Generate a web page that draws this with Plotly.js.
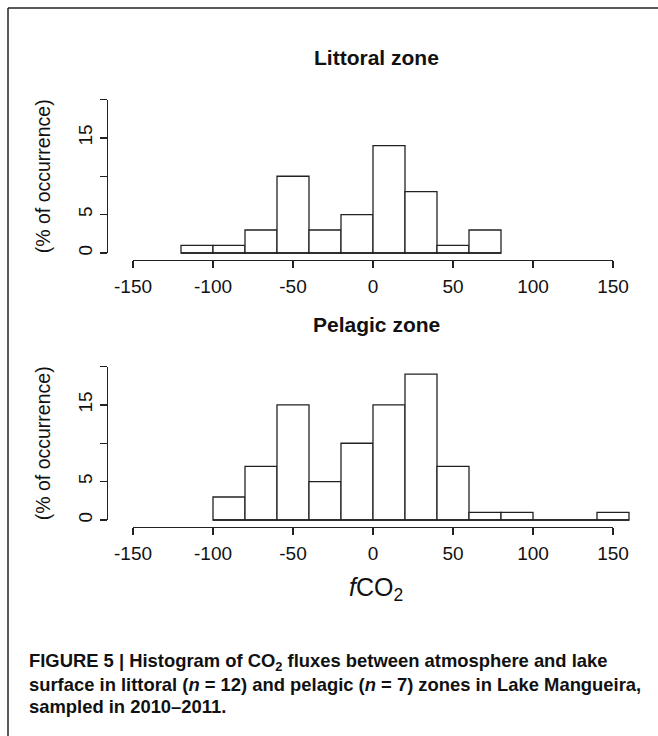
<!DOCTYPE html>
<html>
<head>
<meta charset="utf-8">
<script src="https://cdn.plot.ly/plotly-3.0.1.min.js"></script>
<style>html,body{margin:0;padding:0;background:#fff;}#chart{width:658px;height:736px;}</style>
</head>
<body>
<div id="chart"></div>
<script>
// ---------------- data ----------------
const binWidth = 20;
const littoralCenters = [-110, -90, -70, -50, -30, -10, 10, 30, 50, 70];
const littoralPct     = [1, 1, 3, 10, 3, 5, 14, 8, 1, 3];
const pelagicCenters  = [-90, -70, -50, -30, -10, 10, 30, 50, 70, 90, 110, 130, 150];
const pelagicPct      = [3, 7, 15, 5, 10, 15, 19, 7, 1, 1, 0, 0, 1];
const xTickVals = [-150, -100, -50, 0, 50, 100, 150];
const xTickText = ['-150', '-100', '-50', '0', '50', '100', '150'];
const yTickVals = [0, 5, 10, 15, 20];
const yTickText = ['0', '5', '', '15', ''];
const panelTitles = ['Littoral zone', 'Pelagic zone'];
const yTitle = '(% of occurrence)';
const xTitle = '<i>f</i>CO<sub>2</sub>';
const captionLines = [
  '<b>FIGURE 5 | Histogram of CO<sub>2</sub> fluxes between atmosphere and lake</b>',
  '<b>surface in littoral (<i>n</i> = 12) and pelagic (<i>n</i> = 7) zones in Lake Mangueira,</b>',
  '<b>sampled in 2010–2011.</b>'
];

// ---------------- layout geometry (pixels) ----------------
const W = 658, H = 736;
const px2x = p => p / W;
const px2y = p => 1 - p / H;
const ink = '#222';
const lw = 1.3;
const fontR = 'Liberation Sans, Arial, Helvetica, sans-serif';
const fontCap = 'Liberation Sans, Arial, sans-serif';

const yAxisPx = 108;         // x pixel of vertical axis line
const xMinPx = 133, xMaxPx = 613;   // -150 and 150
const xppu = (xMaxPx - xMinPx) / 300;
const dataRightPx = 652;

const panels = [
  {zero: 253, twenty: 99.5, axisLine: 259.5, top: 91, titleY: 57, centers: littoralCenters, vals: littoralPct},
  {zero: 520, twenty: 366.5, axisLine: 526.5, top: 358, titleY: 324, centers: pelagicCenters, vals: pelagicPct}
];

const traces = [];
const layout = {
  width: W, height: H,
  margin: {l: 0, r: 0, t: 0, b: 0},
  paper_bgcolor: '#fff', plot_bgcolor: 'rgba(0,0,0,0)',
  showlegend: false,
  font: {family: fontR, color: '#111'},
  annotations: [], shapes: []
};

panels.forEach((p, i) => {
  const n = i * 2;
  const dx = n === 0 ? 'x' : 'x' + (n + 1);
  const dy = n === 0 ? 'y' : 'y' + (n + 1);
  const ax = 'x' + (n + 2);
  const ay = 'y' + (n + 2);
  const key = s => s.replace('x', 'xaxis').replace('y', 'yaxis');
  const ppu = (p.zero - p.twenty) / 20;

  layout[key(dx)] = {
    domain: [px2x(yAxisPx), px2x(dataRightPx)],
    range: [-150 - (xMinPx - yAxisPx) / xppu, -150 + (dataRightPx - xMinPx) / xppu],
    visible: false, fixedrange: true, anchor: dy
  };
  layout[key(dy)] = {
    domain: [px2y(p.axisLine), px2y(p.top)],
    range: [-(p.axisLine - p.zero) / ppu, 20 + (p.twenty - p.top) / ppu],
    visible: false, fixedrange: true, anchor: dx
  };
  layout[key(ax)] = {
    domain: [px2x(xMinPx), px2x(xMaxPx)], range: [-150, 150], anchor: dy,
    showline: true, linecolor: ink, linewidth: lw, showgrid: false, zeroline: false,
    ticks: 'outside', ticklen: 7, tickwidth: lw, tickcolor: ink, ticklabelstandoff: 2,
    tickmode: 'array', tickvals: xTickVals, ticktext: xTickText,
    tickfont: {family: fontR, size: 19, color: '#111'}, fixedrange: true
  };
  layout[key(ay)] = {
    domain: [px2y(p.zero), px2y(p.twenty)], range: [0, 20], anchor: dx, side: 'left',
    showline: true, linecolor: ink, linewidth: lw, showgrid: false, zeroline: false,
    ticks: 'outside', ticklen: 7, tickwidth: lw, tickcolor: ink,
    tickmode: 'array', tickvals: yTickVals, ticktext: yTickText, tickangle: -90,
    tickfont: {family: fontR, size: 19, color: '#111'}, fixedrange: true
  };

  // axis carrier traces (empty)
  traces.push({type: 'scatter', x: [], y: [], xaxis: ax, yaxis: dy, hoverinfo: 'skip'});
  traces.push({type: 'scatter', x: [], y: [], xaxis: dx, yaxis: ay, hoverinfo: 'skip'});

  // histogram bars
  traces.push({
    type: 'bar', x: p.centers, y: p.vals, width: binWidth, xaxis: dx, yaxis: dy,
    marker: {color: '#fff', line: {color: ink, width: lw}}, hoverinfo: 'x+y'
  });
  // baseline through all bins (shows empty bins as a line, like R's hist)
  traces.push({
    type: 'scatter', mode: 'lines', xaxis: dx, yaxis: dy, hoverinfo: 'skip',
    x: [p.centers[0] - binWidth / 2, p.centers[p.centers.length - 1] + binWidth / 2],
    y: [0, 0], line: {color: ink, width: lw}, cliponaxis: false
  });

  // panel title
  layout.annotations.push({
    xref: 'paper', yref: 'paper', x: px2x(376), y: px2y(p.titleY),
    xanchor: 'center', yanchor: 'middle', showarrow: false,
    text: '<b>' + panelTitles[i] + '</b>', font: {family: fontR, size: 21, color: '#111'}
  });
  // y title
  layout.annotations.push({
    xref: 'paper', yref: 'paper', x: px2x(43), y: px2y((p.zero + p.twenty) / 2),
    xanchor: 'center', yanchor: 'middle', showarrow: false, textangle: -90,
    text: yTitle, font: {family: fontR, size: 19.5, color: '#111'}
  });
});

// x title
layout.annotations.push({
  xref: 'paper', yref: 'paper', x: px2x(376), y: px2y(589),
  xanchor: 'center', yanchor: 'middle', showarrow: false,
  text: xTitle, font: {family: fontR, size: 25, color: '#111'}
});

// caption
const capY = [662, 684, 706];
captionLines.forEach((t, k) => {
  layout.annotations.push({
    xref: 'paper', yref: 'paper', x: px2x(27), y: px2y(capY[k]),
    xanchor: 'left', yanchor: 'middle', showarrow: false, align: 'left',
    text: t, font: {family: fontCap, size: 18.4, color: '#111'}
  });
});

// figure frame (top & left)
layout.shapes.push({type: 'line', xref: 'paper', yref: 'paper', x0: px2x(8), x1: 1, y0: px2y(8), y1: px2y(8), line: {color: '#222', width: 1.5}});
layout.shapes.push({type: 'line', xref: 'paper', yref: 'paper', x0: px2x(8), x1: px2x(8), y0: px2y(8), y1: 0, line: {color: '#222', width: 1.5}});

Plotly.newPlot('chart', traces, layout, {displayModeBar: false, staticPlot: true});
</script>
</body>
</html>
